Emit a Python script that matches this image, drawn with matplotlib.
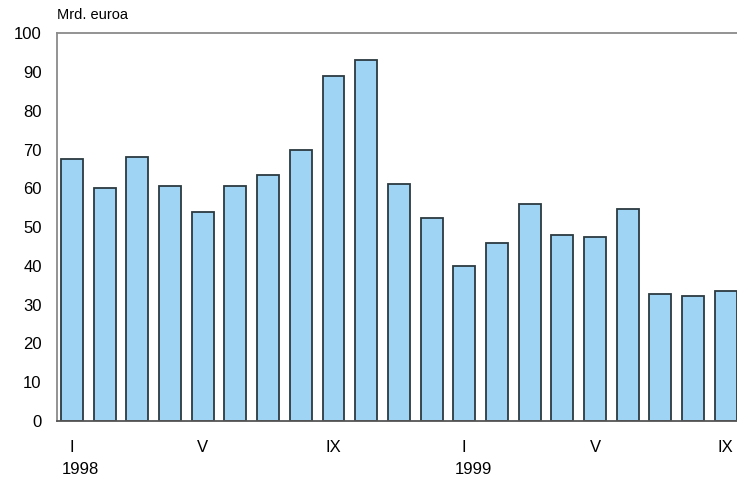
import matplotlib
matplotlib.use("Agg")
import matplotlib.pyplot as plt

# monthly values, I/1998 .. IX/1999
months = ["I", "II", "III", "IV", "V", "VI", "VII", "VIII", "IX", "X", "XI", "XII",
          "I", "II", "III", "IV", "V", "VI", "VII", "VIII", "IX"]
values = [67.5, 60, 68, 60.5, 54, 60.5, 63.5, 70, 89, 93, 61, 52.3,
          40, 46, 56, 48, 47.5, 54.6, 32.8, 32.3, 33.5]
shown_ticks = [0, 4, 8, 12, 16, 20]
years = {0: "1998", 12: "1999"}

plt.rcParams["font.family"] = ["Liberation Sans", "DejaVu Sans"]

fig = plt.figure(figsize=(7.37, 4.86), dpi=100)
ax = fig.add_axes([0.0773, 0.1337, 0.974, 0.798])

x = list(range(len(values)))
ax.bar(x, values, width=0.67, color="#9fd4f4", edgecolor="#2b3a40", linewidth=1.3)

ax.set_xlim(-0.46, 21.5)
ax.set_ylim(0, 100)
ax.set_yticks(range(0, 101, 10))
ax.tick_params(axis="y", length=0, pad=11, labelsize=12)
ax.set_xticks(shown_ticks)
ax.set_xticklabels([months[i] for i in shown_ticks])
ax.tick_params(axis="x", length=0, pad=14, labelsize=12)

for i, yr in years.items():
    ax.text(i - 0.3, -0.105, yr, transform=ax.get_xaxis_transform(),
            ha="left", va="top", fontsize=12)

for side in ["left", "top"]:
    ax.spines[side].set_color("#8a8a8a")
    ax.spines[side].set_linewidth(1.3)
ax.spines["bottom"].set_color("#555555")
ax.spines["bottom"].set_linewidth(1.3)
ax.spines["right"].set_visible(False)

fig.text(57 / 737, 1 - 15 / 486, "Mrd. euroa", ha="left", va="center", fontsize=10.5)

fig.savefig("out.png", dpi=100)
